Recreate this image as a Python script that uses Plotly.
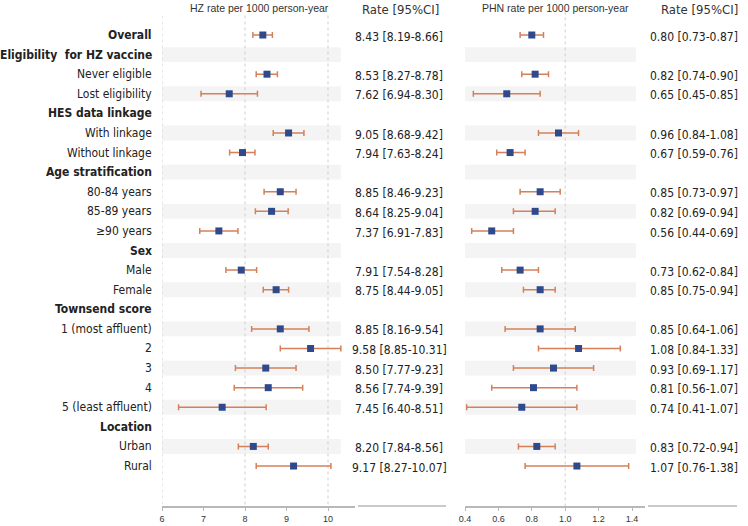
import plotly.graph_objects as go

# ---------------- data ----------------
labels = ["Overall", "Eligibility  for HZ vaccine", "Never eligible", "Lost eligibility",
          "HES data linkage", "With linkage", "Without linkage", "Age stratification",
          "80-84 years", "85-89 years", "≥90 years", "Sex", "Male", "Female",
          "Townsend score", "1 (most affluent)", "2", "3", "4", "5 (least affluent)",
          "Location", "Urban", "Rural"]
is_header = [True, True, False, False, True, False, False, True, False, False, False,
             True, False, False, True, False, False, False, False, False, True, False, False]

hz_rate = [8.43, None, 8.53, 7.62, None, 9.05, 7.94, None, 8.85, 8.64, 7.37, None, 7.91, 8.75,
           None, 8.85, 9.58, 8.50, 8.56, 7.45, None, 8.20, 9.17]
hz_lo = [8.19, None, 8.27, 6.94, None, 8.68, 7.63, None, 8.46, 8.25, 6.91, None, 7.54, 8.44,
         None, 8.16, 8.85, 7.77, 7.74, 6.40, None, 7.84, 8.27]
hz_hi = [8.66, None, 8.78, 8.30, None, 9.42, 8.24, None, 9.23, 9.04, 7.83, None, 8.28, 9.05,
         None, 9.54, 10.31, 9.23, 9.39, 8.51, None, 8.56, 10.07]

phn_rate = [0.80, None, 0.82, 0.65, None, 0.96, 0.67, None, 0.85, 0.82, 0.56, None, 0.73, 0.85,
            None, 0.85, 1.08, 0.93, 0.81, 0.74, None, 0.83, 1.07]
phn_lo = [0.73, None, 0.74, 0.45, None, 0.84, 0.59, None, 0.73, 0.69, 0.44, None, 0.62, 0.75,
          None, 0.64, 0.84, 0.69, 0.56, 0.41, None, 0.72, 0.76]
phn_hi = [0.87, None, 0.90, 0.85, None, 1.08, 0.76, None, 0.97, 0.94, 0.69, None, 0.84, 0.94,
          None, 1.06, 1.33, 1.17, 1.07, 1.07, None, 0.94, 1.38]

hz_ticks = [6, 7, 8, 9, 10]
hz_grid = [6, 8, 10]
phn_ticks = [0.4, 0.6, 0.8, 1.0, 1.2, 1.4]
phn_grid = [1.0]

hz_title = "HZ rate per 1000 person-year"
phn_title = "PHN rate per 1000 person-year"
rate_title = "Rate [95%CI]"

# ---------------- style ----------------
W, H = 748, 526
FONT = "DejaVu Sans Condensed, DejaVu Sans, sans-serif"
MARK = "#2f4a8c"
ERR = "#d4805a"
BAND = "#f4f4f4"
GRID = "#cfcfcf"
AXIS = "#b8b8b8"
TXT = "#222222"

rows = list(range(len(labels)))
n = len(labels)
y_top, y_bot = -1.787, n - 1 + 2.04


def series(vals, lo, hi):
    ys, xs, up, dn = [], [], [], []
    for i, (v, l, h) in enumerate(zip(vals, lo, hi)):
        if v is None:
            continue
        ys.append(i)
        xs.append(v)
        up.append(h - v)
        dn.append(v - l)
    return xs, ys, up, dn


fig = go.Figure()
for (vals, lo, hi), xa in (((hz_rate, hz_lo, hz_hi), "x"), ((phn_rate, phn_lo, phn_hi), "x2")):
    xs, ys, up, dn = series(vals, lo, hi)
    fig.add_trace(go.Scatter(
        x=xs, y=ys, mode="markers", xaxis=xa, yaxis="y",
        marker=dict(symbol="square", size=7, color=MARK),
        error_x=dict(type="data", symmetric=False, array=up, arrayminus=dn,
                     color=ERR, thickness=1.5, width=3),
        showlegend=False, hoverinfo="skip"))

shapes = []
# alternating bands
for i in rows:
    if i % 2 == 1:
        shapes.append(dict(type="rect", xref="x", yref="y", x0=6, x1=10.31,
                           y0=i - 0.38, y1=i + 0.38, fillcolor=BAND, line=dict(width=0),
                           layer="below"))
        shapes.append(dict(type="rect", xref="x2", yref="y", x0=0.4, x1=1.424,
                           y0=i - 0.38, y1=i + 0.38, fillcolor=BAND, line=dict(width=0),
                           layer="below"))
# dashed gridlines
for g in hz_grid:
    shapes.append(dict(type="line", xref="x", yref="y", x0=g, x1=g, y0=-1.0, y1=y_bot,
                       line=dict(color=GRID, width=1, dash="3px,3px"), layer="below"))
for g in phn_grid:
    shapes.append(dict(type="line", xref="x2", yref="y", x0=g, x1=g, y0=-1.2, y1=y_bot,
                       line=dict(color=GRID, width=1, dash="3px,3px"), layer="below"))
# base lines under the rate columns
for x0, x1 in ((358, 446), (648, 737)):
    shapes.append(dict(type="line", xref="paper", yref="paper", x0=x0 / W, x1=x1 / W,
                       y0=0, y1=0, line=dict(color=AXIS, width=1.5)))

annotations = []
for i, (lab, hd) in enumerate(zip(labels, is_header)):
    annotations.append(dict(xref="paper", yref="y", x=154 / W, y=i, xanchor="right",
                            yanchor="middle", showarrow=False,
                            text=f"<b>{lab}</b>" if hd else lab,
                            font=dict(family=FONT, size=12, color=TXT)))
    if hz_rate[i] is not None:
        annotations.append(dict(xref="paper", yref="y", x=399 / W, y=i + 0.08, xanchor="center",
                                yanchor="middle", showarrow=False,
                                text=f"{hz_rate[i]:.2f} [{hz_lo[i]:.2f}-{hz_hi[i]:.2f}]",
                                font=dict(family=FONT, size=12, color=TXT)))
    if phn_rate[i] is not None:
        annotations.append(dict(xref="paper", yref="y", x=694 / W, y=i + 0.08, xanchor="center",
                                yanchor="middle", showarrow=False,
                                text=f"{phn_rate[i]:.2f} [{phn_lo[i]:.2f}-{phn_hi[i]:.2f}]",
                                font=dict(family=FONT, size=12, color=TXT)))

ph = H - 20
for txt, xc, py, fnt, sz in ((hz_title, 259, 8, "Liberation Sans, Arial, sans-serif", 10.5),
                             (phn_title, 555, 8, "Liberation Sans, Arial, sans-serif", 10.5),
                             (rate_title, 400, 10, FONT, 13),
                             (rate_title, 699, 10, FONT, 13)):
    annotations.append(dict(xref="paper", yref="paper", x=xc / W, y=(ph - py) / ph,
                            xanchor="center", yanchor="middle", showarrow=False, text=txt,
                            font=dict(family=fnt, size=sz, color="#333333")))

axis_common = dict(showline=True, linecolor=AXIS, linewidth=1.5, ticks="outside", ticklen=3,
                   tickcolor=AXIS, showgrid=False, zeroline=False, anchor="y",
                   tickfont=dict(family="Liberation Sans, Arial, sans-serif", size=9,
                                 color="#333333"), automargin=False, fixedrange=True)

fig.update_layout(
    width=W, height=H, margin=dict(l=0, r=0, t=0, b=20),
    paper_bgcolor="white", plot_bgcolor="white",
    xaxis=dict(domain=[162 / W, 355 / W], range=[6, 6 + (355 - 162) / 41.5],
               tickvals=hz_ticks, **axis_common),
    xaxis2=dict(domain=[465 / W, 645 / W], range=[0.4, 0.4 + (645 - 465) / 167],
                tickvals=phn_ticks, tickformat=".1f", **axis_common),
    yaxis=dict(domain=[0, 1], range=[y_bot, y_top], visible=False, fixedrange=True),
    shapes=shapes, annotations=annotations,
)

fig.write_html("out.html", config={"displayModeBar": False},
               post_script="document.body.style.margin='0';document.body.style.overflow='hidden';")
